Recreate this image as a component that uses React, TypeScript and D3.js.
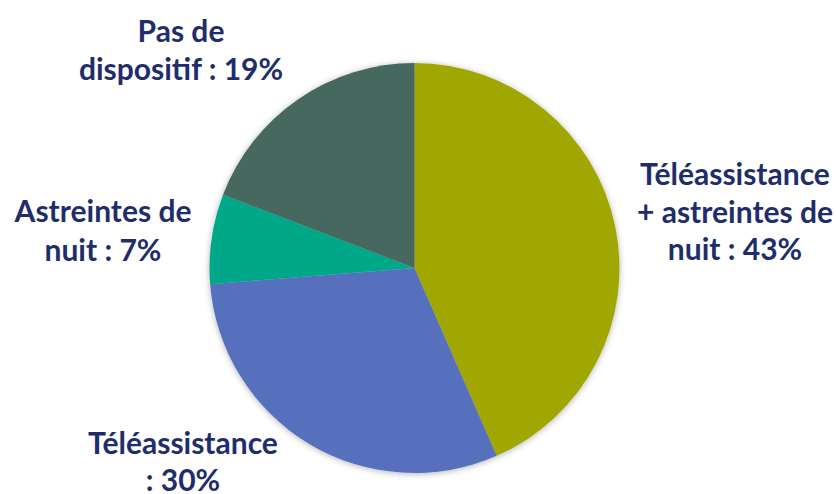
import React from "react";
import * as d3 from "d3";

const categories = [
  "Téléassistance + astreintes de nuit",
  "Téléassistance",
  "Astreintes de nuit",
  "Pas de dispositif",
];
const values = [43, 30, 7, 19];
const colors = ["#9FA700", "#5670BE", "#00A88A", "#46685F"];
const labelLines = [
  ["Téléassistance", "+ astreintes de", "nuit : 43%"],
  ["Téléassistance", ": 30%"],
  ["Astreintes de", "nuit : 7%"],
  ["Pas de", "dispositif : 19%"],
];
const labelPos = [
  { x: 735, y: 185, lh: 37.5 },
  { x: 183, y: 454, lh: 36.5 },
  { x: 103, y: 222, lh: 39 },
  { x: 181, y: 42, lh: 38 },
];

export default function App() {
  const W = 836, H = 494;
  const cx = 414.5, cy = 268, r = 205;
  const pie = d3.pie<number>().sort(null).value((d) => d);
  const arcs = pie(values);
  const arc = d3.arc<d3.PieArcDatum<number>>().innerRadius(0).outerRadius(r);
  return (
    <svg width={W} height={H} style={{ position: "absolute", left: 0, top: 0, background: "#fff" }}>
      <defs>
        <filter id="sh" x="-20%" y="-20%" width="140%" height="140%">
          <feDropShadow dx="0" dy="1" stdDeviation="3" floodColor="#000" floodOpacity="0.3" />
        </filter>
      </defs>
      <g transform={`translate(${cx},${cy})`} filter="url(#sh)">
        {arcs.map((a, i) => (
          <path key={categories[i]} d={arc(a) || ""} fill={colors[i]} />
        ))}
      </g>
      {labelLines.map((lines, i) => (
        <text
          key={i}
          textAnchor="middle"
          fontFamily="Lato, 'Open Sans', sans-serif"
          fontWeight="bold"
          fontSize={30}
          fill="#1F2D6C"
        >
          {lines.map((l, j) => (
            <tspan key={j} x={labelPos[i].x} y={labelPos[i].y + j * labelPos[i].lh}>
              {l}
            </tspan>
          ))}
        </text>
      ))}
    </svg>
  );
}
